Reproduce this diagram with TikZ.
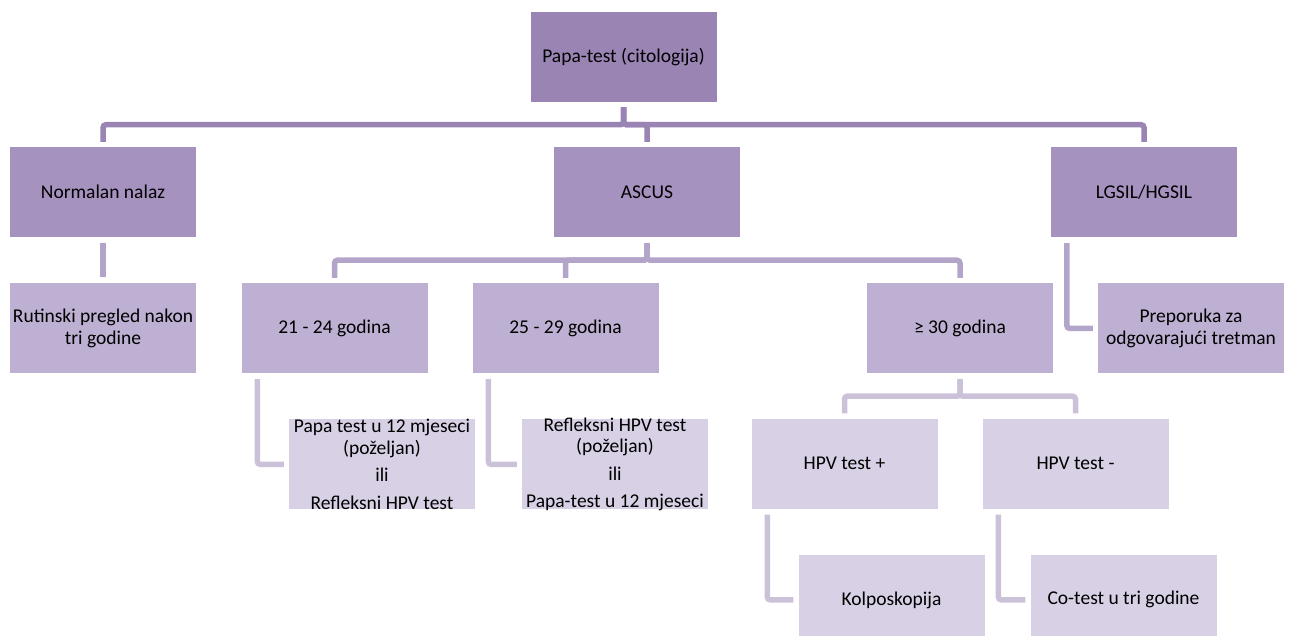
\documentclass[tikz,border=0pt]{standalone}
\usepackage{fontspec}
\setmainfont{Carlito}
\usepackage{tikz}
\usetikzlibrary{positioning, calc}
\definecolor{PapaTop}{HTML}{9A84B4}
\definecolor{PapaMid}{HTML}{A592BF}
\definecolor{PapaLow}{HTML}{BEB0D2}
\definecolor{PapaPale}{HTML}{D8D0E4}
\definecolor{LinkMid}{HTML}{B3A5C9}
\definecolor{LinkPale}{HTML}{CBC2DA}

\begin{document}
\begin{tikzpicture}[
  x=1pt, y=1pt,
  font=\fontsize{19.5}{21.5}\selectfont,
  node distance=46pt and 47pt,
  box/.style={rectangle, inner sep=0pt, minimum width=186pt, minimum height=90pt, align=center},
  rootbox/.style={box, fill=PapaTop},
  lvlone/.style={box, fill=PapaMid},
  lvltwo/.style={box, fill=PapaLow},
  lvlthree/.style={box, fill=PapaPale},
  txt/.style={inner sep=0pt, align=center},
  linktop/.style={line width=5.5pt, rounded corners=3pt, PapaTop},
  linkmid/.style={line width=5.5pt, rounded corners=3pt, LinkMid},
  linkpale/.style={line width=5.5pt, rounded corners=3pt, LinkPale}
]
\useasboundingbox (0,0) rectangle (1290,-636);

\node[rootbox] (root) at (623.5,-57) {Papa-test (citologija)};
\node[lvlone] (norm) at (103,-192) {Normalan nalaz};
\node[lvlone] (ascus) at (647,-192) {ASCUS};
\node[lvlone] (lsil) at (1144,-192) {LGSIL/HGSIL};

\node[lvltwo, below=of norm] (rutin) {Rutinski pregled nakon\\tri godine};
\node[lvltwo] (g21) at (334.5,-328) {21 - 24 godina};
\node[lvltwo] (g25) at (565.5,-328) {25 - 29 godina};
\node[lvltwo] (g30) at (960,-328) {≥ 30 godina};
\node[lvltwo, below=of lsil, xshift=47pt] (prep) {Preporuka za\\odgovarajući tretman};

\node[lvlthree, below=of g21, xshift=47.5pt] (pap12) {};
\node[txt] (pap12txt) at (pap12.center) {Papa test u 12 mjeseci\\(poželjan)\\[6pt]ili\\[6pt]Refleksni HPV test};
\node[lvlthree, below=of g25, xshift=49.5pt] (refl) {};
\node[txt] (refltxt) at (refl.center) {Refleksni HPV test\\(poželjan)\\[6pt]ili\\[6pt]Papa-test u 12 mjeseci};
\node[lvlthree] (hpvp) at (844.5,-463.5) {HPV test +};
\node[lvlthree] (hpvn) at (1075.5,-463.5) {HPV test -};

\node[lvlthree, below=of hpvp, xshift=47pt] (kolpo) {Kolposkopija};
\node[lvlthree, below=of hpvn, xshift=48pt] (cotest) {Co-test u tri godine};

% top level
\draw[linktop] ([yshift=-5pt]root.south) -- ++(0,-17.5) -| ([yshift=5pt]norm.north);
\draw[linktop] ([yshift=-5pt]root.south) -- ++(0,-17.5) -| ([yshift=5pt]ascus.north);
\draw[linktop] ([yshift=-5pt]root.south) -- ++(0,-17.5) -| ([yshift=5pt]lsil.north);

% second level
\draw[linkmid] ([yshift=-6pt]norm.south) -- ([yshift=6pt]rutin.north);
\draw[linkmid] ([yshift=-6pt]ascus.south) -- ++(0,-17) -| ([yshift=5pt]g21.north);
\draw[linkmid] ([yshift=-6pt]ascus.south) -- ++(0,-17) -| ([yshift=5pt]g25.north);
\draw[linkmid] ([yshift=-6pt]ascus.south) -- ++(0,-17) -| ([yshift=5pt]g30.north);
\draw[linkmid] ([xshift=16pt,yshift=-6pt]lsil.south west) |- ([xshift=-5pt]prep.west);

% third level
\draw[linkpale] ([xshift=16pt,yshift=-6pt]g21.south west) |- ([xshift=-5pt]pap12.west);
\draw[linkpale] ([xshift=16pt,yshift=-6pt]g25.south west) |- ([xshift=-5pt]refl.west);
\draw[linkpale] ([yshift=-6pt]g30.south) -- ++(0,-17) -| ([yshift=5pt]hpvp.north);
\draw[linkpale] ([yshift=-6pt]g30.south) -- ++(0,-17) -| ([yshift=5pt]hpvn.north);
\draw[linkpale] ([xshift=16pt,yshift=-6pt]hpvp.south west) |- ([xshift=-5pt]kolpo.west);
\draw[linkpale] ([xshift=16pt,yshift=-6pt]hpvn.south west) |- ([xshift=-5pt]cotest.west);
\end{tikzpicture}
\end{document}
